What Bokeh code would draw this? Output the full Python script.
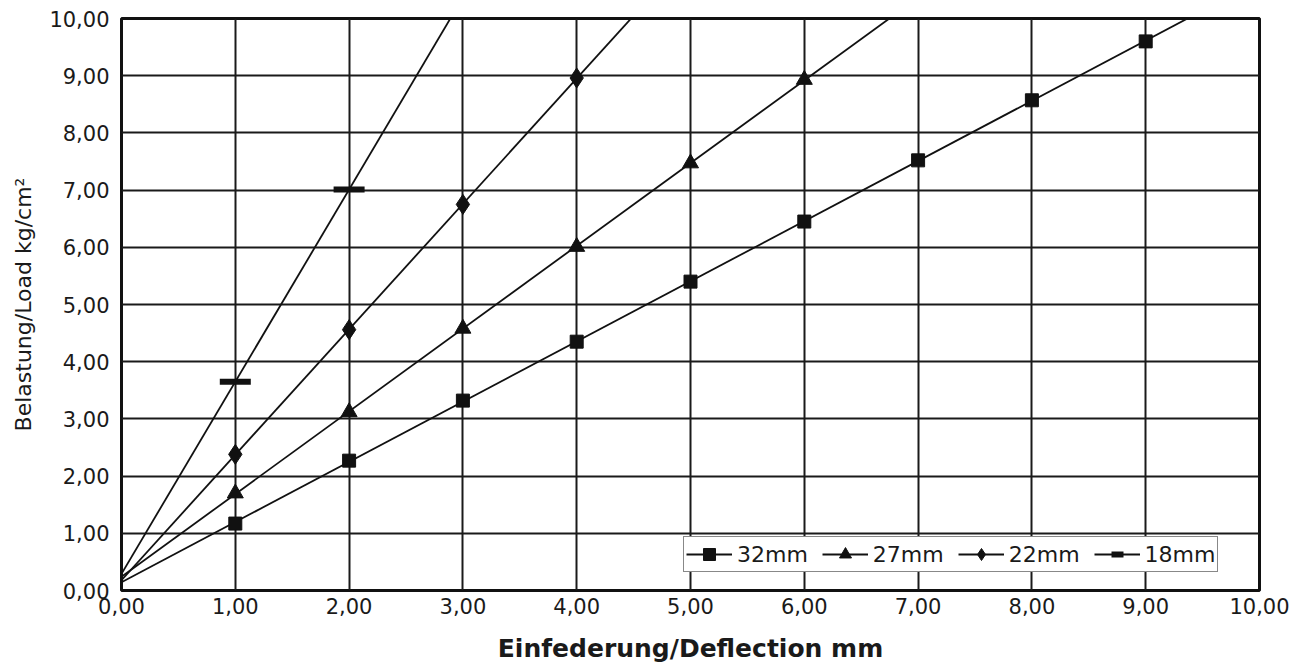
import numpy as np
from bokeh.plotting import figure
from bokeh.models import FixedTicker, CustomJSTickFormatter, Range1d
from bokeh.embed import file_html
from bokeh.resources import INLINE

# ---- data ----
x_32 = [1, 2, 3, 4, 5, 6, 7, 8, 9]
y_32 = [1.17, 2.27, 3.32, 4.35, 5.40, 6.45, 7.52, 8.57, 9.60]

x_27 = [1, 2, 3, 4, 5, 6]
y_27 = [1.70, 3.12, 4.58, 6.01, 7.47, 8.93]

x_22 = [1, 2, 3, 4]
y_22 = [2.38, 4.56, 6.75, 8.96]

x_18 = [1, 2]
y_18 = [3.65, 7.01]

series_labels = ["32mm", "27mm", "22mm", "18mm"]
x_ticks = [0, 1, 2, 3, 4, 5, 6, 7, 8, 9, 10]
y_ticks = [0, 1, 2, 3, 4, 5, 6, 7, 8, 9, 10]
x_title = "Einfederung/Deflection mm"
y_title = "Belastung/Load kg/cm²"

FONT = "DejaVu Sans"

p = figure(width=1294, height=670, output_backend="svg", toolbar_location=None,
           x_range=Range1d(x_ticks[0], x_ticks[-1]), y_range=Range1d(y_ticks[0], y_ticks[-1]),
           frame_width=1138, frame_height=572,
           min_border_left=121, min_border_right=35, min_border_top=18, min_border_bottom=80)
p.background_fill_color = "white"
p.border_fill_color = "white"
p.outline_line_color = "#111111"
p.outline_line_width = 3

fmt = CustomJSTickFormatter(code="return tick.toFixed(2).replace('.', ',');")
for ax, ticks in ((p.xaxis[0], x_ticks), (p.yaxis[0], y_ticks)):
    ax.ticker = FixedTicker(ticks=ticks)
    ax.formatter = fmt
    ax.major_tick_in = 0
    ax.major_tick_out = 0
    ax.minor_tick_in = 0
    ax.minor_tick_out = 0
    ax.axis_line_color = None
    ax.major_label_text_font = FONT
    ax.major_label_text_font_size = "21px"
    ax.major_label_text_color = "#1a1a1a"
    ax.axis_label_text_font = FONT
    ax.axis_label_text_font_style = "normal"
    ax.axis_label_text_color = "#1a1a1a"

p.xaxis.major_label_standoff = 7
p.yaxis.major_label_standoff = 12
p.xaxis.axis_label = x_title
p.xaxis.axis_label_text_font_size = "25px"
p.xaxis.axis_label_text_font_style = "bold"
p.xaxis.axis_label_standoff = 17
p.yaxis.axis_label = y_title
p.yaxis.axis_label_text_font_size = "22px"
p.yaxis.axis_label_standoff = 10

p.xgrid.ticker = FixedTicker(ticks=x_ticks)
p.ygrid.ticker = FixedTicker(ticks=y_ticks)
for g in (p.xgrid[0], p.ygrid[0]):
    g.grid_line_color = "#1a1a1a"
    g.grid_line_width = 2

series = [
    (x_32, y_32, "square", 13, 1),
    (x_27, y_27, "triangle", 16, 1),
    (x_22, y_22, "diamond", 20, 1),
    (x_18, y_18, "dash", 31, 6),
]

x_end = x_ticks[-1]
for (xs, ys, marker, size, lw), label in zip(series, series_labels):
    slope, icpt = np.polyfit(xs, ys, 1)
    lx = [0, x_end]
    ly = [icpt, icpt + slope * x_end]
    p.line(lx, ly, line_color="#111111", line_width=1.8, legend_label=label)
    p.scatter(xs, ys, marker=marker, size=size, fill_color="#111111",
              line_color="#111111", line_width=lw, legend_label=label)

lg = p.legend[0]
lg.orientation = "horizontal"
lg.location = (562, 18)
lg.border_line_color = "#111111"
lg.border_line_width = 1.5
lg.background_fill_color = "white"
lg.background_fill_alpha = 1
lg.label_text_font = FONT
lg.label_text_font_size = "22px"
lg.label_text_color = "#1a1a1a"
lg.glyph_width = 46
lg.glyph_height = 30
lg.label_height = 30
lg.label_standoff = 5
lg.spacing = 14
lg.padding = 2
lg.margin = 0

open("out.html", "w").write(file_html(p, INLINE))
